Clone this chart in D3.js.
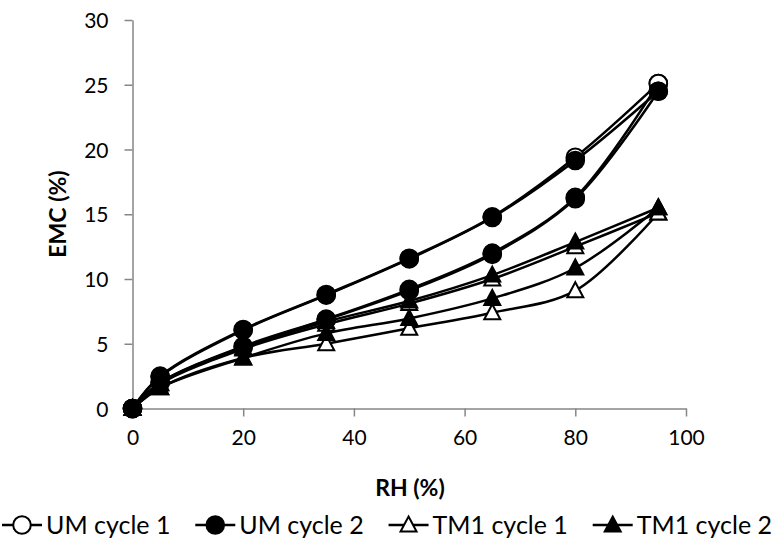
<!DOCTYPE html>
<html>
<head>
<meta charset="utf-8">
<script src="https://cdn.jsdelivr.net/npm/d3@7"></script>
<style>
  html, body { margin: 0; padding: 0; background: #fff; }
  svg { display: block; font-family: Lato, "Open Sans", sans-serif; }
</style>
</head>
<body>
<svg id="chart" width="776" height="553"></svg>
<script>
// Relative humidity steps (%)
const rh = [0, 5, 20, 35, 50, 65, 80, 95];

// Equilibrium moisture content (%) — adsorption and desorption branches
const umCycle1Ads  = [0, 2.0, 4.8, 6.9, 9.2, 12.0, 16.3, 25.1];
const umCycle1Des  = [0, 2.5, 6.1, 8.8, 11.6, 14.8, 19.4, 25.1];
const umCycle2Ads  = [0, 2.0, 4.75, 6.85, 9.1, 11.9, 16.2, 24.5];
const umCycle2Des  = [0, 2.45, 6.05, 8.75, 11.55, 14.75, 19.15, 24.5];
const tm1Cycle1Ads = [0, 1.6, 3.9, 5.0, 6.2, 7.4, 9.1, 15.1];
const tm1Cycle1Des = [0, 1.9, 4.6, 6.5, 8.1, 10.0, 12.5, 15.1];
const tm1Cycle2Ads = [0, 1.6, 3.9, 5.8, 6.95, 8.5, 10.85, 15.5];
const tm1Cycle2Des = [0, 1.95, 4.7, 6.7, 8.3, 10.3, 12.85, 15.5];

const seriesNames = ["UM cycle 1", "UM cycle 2", "TM1 cycle 1", "TM1 cycle 2"];
const xTicks = [0, 20, 40, 60, 80, 100];
const yTicks = [0, 5, 10, 15, 20, 25, 30];

const series = [
  { name: seriesNames[0], shape: "circle",   filled: false, ads: umCycle1Ads,  des: umCycle1Des },
  { name: seriesNames[1], shape: "circle",   filled: true,  ads: umCycle2Ads,  des: umCycle2Des },
  { name: seriesNames[2], shape: "triangle", filled: false, ads: tm1Cycle1Ads, des: tm1Cycle1Des },
  { name: seriesNames[3], shape: "triangle", filled: true,  ads: tm1Cycle2Ads, des: tm1Cycle2Des }
];

const svg = d3.select("#chart");
const axisColor = "#868686";

const x = d3.scaleLinear().domain([0, 100]).range([132.5, 686]);
const y = d3.scaleLinear().domain([0, 30]).range([408.5, 20]);

// Axes
const xAxis = svg.append("g").attr("transform", `translate(0,${y(0)})`)
  .call(d3.axisBottom(x).tickValues(xTicks).tickSize(8).tickSizeOuter(0).tickPadding(9));
const yAxis = svg.append("g").attr("transform", `translate(${x(0)},0)`)
  .call(d3.axisLeft(y).tickValues(yTicks).tickSize(8).tickSizeOuter(0).tickPadding(16));

[xAxis, yAxis].forEach(g => {
  g.select(".domain").attr("stroke", axisColor).attr("stroke-width", 1.5);
  g.selectAll(".tick line").attr("stroke", axisColor).attr("stroke-width", 1.5);
  g.selectAll(".tick text").attr("fill", "#000")
    .style("font-size", "21px").style("font-family", "Lato, sans-serif");
});
xAxis.selectAll(".tick text").attr("dy", "0.95em");
yAxis.selectAll(".tick text").attr("dy", "0.36em");

// Axis titles
svg.append("text")
  .attr("x", 410).attr("y", 496)
  .attr("text-anchor", "middle")
  .style("font-size", "23px").style("font-weight", "bold")
  .text("RH (%)");
svg.append("text")
  .attr("transform", "translate(66,214) rotate(-90)")
  .attr("text-anchor", "middle")
  .style("font-size", "23px").style("font-weight", "bold")
  .text("EMC (%)");

// Smoothed branch lines
const line = d3.line()
  .x(d => x(d[0]))
  .y(d => y(d[1]))
  .curve(d3.curveCatmullRom.alpha(0.5));

const linesG = svg.append("g");
series.forEach(s => {
  [s.ads, s.des].forEach(vals => {
    linesG.append("path")
      .datum(rh.map((h, i) => [h, vals[i]]))
      .attr("d", line)
      .attr("fill", "none")
      .attr("stroke", "#000")
      .attr("stroke-width", 2.5);
  });
});

// Marker shapes
const circleSym = d3.symbol().type(d3.symbolCircle).size(Math.PI * 8.8 * 8.8);
function trianglePath(cx, cy) {
  const w = 16, h = 15;
  return `M${cx},${cy - h / 2 - 1}L${cx + w / 2},${cy + h / 2 - 1}L${cx - w / 2},${cy + h / 2 - 1}Z`;
}
function drawMarker(g, s, cx, cy) {
  const fill = s.filled ? "#000" : "#fff";
  if (s.shape === "circle") {
    g.append("path").attr("d", circleSym())
      .attr("transform", `translate(${cx},${cy})`)
      .attr("fill", fill).attr("stroke", "#000").attr("stroke-width", 2);
  } else {
    g.append("path").attr("d", trianglePath(cx, cy))
      .attr("fill", fill).attr("stroke", "#000").attr("stroke-width", 2)
      .attr("stroke-linejoin", "miter");
  }
}

const markersG = svg.append("g");
series.forEach(s => {
  [s.ads, s.des].forEach(vals => {
    rh.forEach((h, i) => drawMarker(markersG, s, x(h), y(vals[i])));
  });
});

// Legend: one row across the bottom, items spread between left and right edges
const legendY = 525;
const legendLeft = 2, legendRight = 772;
const swatch = 40, textGap = 4;
const legend = svg.append("g");
const items = series.map(s => {
  const g = legend.append("g");
  g.append("line")
    .attr("x1", 0).attr("x2", swatch)
    .attr("y1", legendY).attr("y2", legendY)
    .attr("stroke", "#000").attr("stroke-width", 2.5);
  drawMarker(g, s, swatch / 2, legendY);
  const t = g.append("text")
    .attr("x", swatch + textGap).attr("y", legendY)
    .attr("dy", "0.36em")
    .style("font-size", "25px")
    .text(s.name);
  return { g, w: swatch + textGap + t.node().getComputedTextLength() };
});
const totalW = d3.sum(items, d => d.w);
const gap = (legendRight - legendLeft - totalW) / (items.length - 1);
let cursor = legendLeft;
items.forEach(it => {
  it.g.attr("transform", `translate(${cursor},0)`);
  cursor += it.w + gap;
});
</script>
</body>
</html>
